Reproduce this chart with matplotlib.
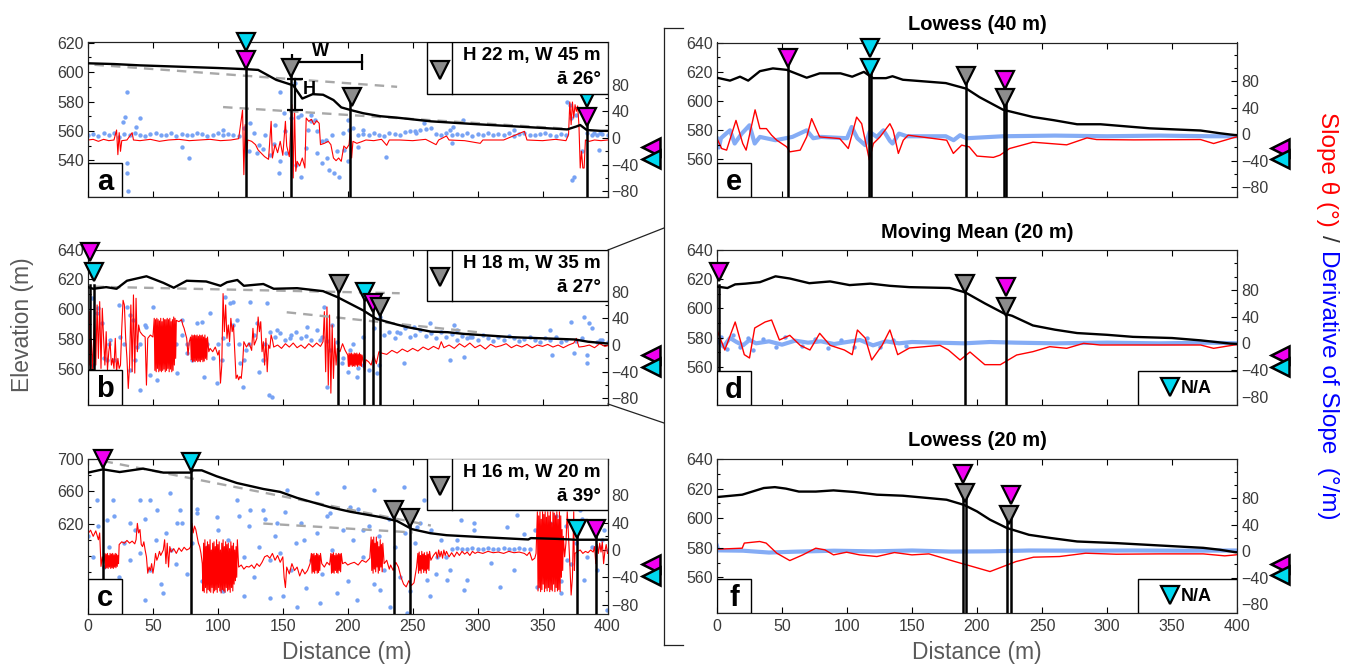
import numpy as np
import matplotlib
matplotlib.use('Agg')
import matplotlib.pyplot as plt
from matplotlib.patches import Rectangle
from matplotlib.lines import Line2D
from matplotlib.ticker import FixedLocator, MultipleLocator

plt.rcParams['font.family'] = ['Liberation Sans', 'DejaVu Sans']

W, H = 1347, 668

# colours
MAGENTA = '#f000f0'
CYAN = '#00d8f0'
GREY = '#8c8c8c'
RED = '#ff0000'
LBLUE = '#78a3f4'
TICKC = '#3a3a3a'
LABELC = '#5a5a5a'

# ---------------- panel a ----------------
a_prof = [(0, 606), (20, 605.5), (40, 604.6), (60, 604), (80, 603.4), (100, 602.8), (122, 602),
          (131, 601.5), (145, 594.7), (158, 591), (165, 582), (173, 585), (181, 584.6), (189, 581),
          (195, 576), (203, 574), (212, 572), (225, 570), (238, 569), (264, 566.5), (300, 564.5),
          (340, 562.5), (369, 561), (376, 563), (379, 564), (384, 560.6), (395, 560), (400, 560)]
a_dash = [((5, 238), (605, 590)), ((104, 370), (576.2, 561.4))]
a_vlines = [(122, 608), (156, 602.6), (202, 583.4), (384, 569.4)]
a_marks = [(122, 608.3, MAGENTA), (122, 620.7, CYAN), (156, 602.6, GREY), (203, 583.4, GREY),
           (384, 582.3, CYAN), (384.5, 569.4, MAGENTA)]
a_red = [(0, -3), (4, -2), (8, -5), (12, -2), (16, -4), (20, -3), (22, 12), (23, -25), (24, 8), (25, -20),
         (26, -4), (30, -3), (34, 8), (35, -3), (40, -4), (48, -2), (55, -5), (62, -3), (70, -2), (78, -4),
         (86, -3), (94, -2), (102, -4), (110, -3), (116, -1), (119, 42), (120, -55), (121, 20), (122, -30),
         (123, -3), (126, -5), (129, -10), (131, -18), (133, -22), (136, -28), (139, -32), (141, 25),
         (142, -30), (144, -10), (146, -22), (148, -5), (150, -26), (152, 25), (153, -12), (155, -28),
         (157, 50), (158, -60), (159, 45), (160, -50), (161, -35), (163, -42), (165, -30), (167, -45),
         (168, 30), (170, 25), (172, 28), (174, 20), (176, 26), (178, 22), (179, -10), (182, -8), (185, -5),
         (187, -10), (189, -30), (191, -34), (193, -30), (195, -35), (197, -12), (199, -16), (201, -10),
         (202, 12), (203, -30), (204, -5), (207, -8), (210, -6), (214, -3), (220, -4), (226, -2), (230, -11),
         (232, -3), (240, -3), (250, -4), (260, -2), (268, -10), (270, -3), (276, 3), (278, -3), (290, -4),
         (302, -8), (304, -3), (320, -3), (336, 10), (338, -3), (350, -4), (360, -2), (368, -4), (370, 5),
         (371, 54), (372, 20), (373, 54), (374, 30), (375, 50), (376, 40), (377, 48), (378, 20), (379, -45),
         (380, -20), (381, -45), (382, -45), (383, -3), (386, -5), (390, -3), (395, -4), (400, -3)]
a_band_d = np.arange(0, 401, 4)
a_band_v = [4, 6, 3, 7, 5, 8, 2, 6, 4, 7, 5, 3, 6, 8, 4, 5, 7, 3, 6, 5, 4, 8, 6, 3, 5, 7, 4, 6, 5, 3,
            15, -20, 8, -10, 5, -25, 20, -35, 10, 30, -40, 35, -15, 25, 10, -5, -30, 5, -20, 8, -35, 15, 5,
            6, 4, 7, 5, 3, 8, 6, 4, 9, 10, 11, 12, 13, 15, 6, 5, 7, 4, 6, 5, 7, 3, 6, 5, 8, 4, 6, 5, 7, 3,
            6, 8, 5, 4, 6, 7, 5, 3, 6, 5, 30, 35, -20, 8, 5, 4, 6, 5]
a_blue_out = [(29.8, 69), (28.5, 32), (27, 24.5), (29.8, -53), (31, -80), (30, -38), (40, 29.5), (37, 17),
              (78, -30), (72.6, -13), (104, 12), (125, 22), (130, -23), (135, -16), (143, -8.5), (148, 69),
              (147, -53), (151, 37), (152.6, -23), (159, 82), (161.6, 32), (164, -58), (169.6, 12),
              (172, 34.5), (175, 27), (176.5, -23), (180, -38), (183, -3), (185.7, -48), (189.6, -53),
              (193.4, -58), (197, -18), (201, 12), (200, 27), (207.7, -13), (211.6, 12), (229.6, -28),
              (252.7, 7), (281, 17), (289, 27), (258.5, 22), (279, 12.5), (280.3, -7.5), (369, 54),
              (371.5, 49), (373, -63), (374.3, -58), (393.3, -18), (394.6, 7), (328, 12.5), (389.4, 7.5)]

# ---------------- panel b ----------------
b_prof = [(0, 614.7), (4, 613.6), (14, 614.7), (22, 613.6), (30, 619), (45, 622), (58, 617.6), (66, 614.3),
          (76, 619), (91, 618.5), (102, 615.6), (107, 618), (115, 619.5), (120, 615.6), (135, 616.8),
          (143, 613.6), (161, 614), (181, 612), (192, 608), (202, 603.5), (212, 599), (222, 593.4),
          (238, 589.5), (246, 587.8), (264, 584.8), (277, 584.4), (289, 583.3), (328, 581), (375, 579.5),
          (385, 578), (400, 576.8)]
b_dash = [((5, 240), (615, 610.6)), ((153, 300), (597.8, 584.4))]
b_vlines = [(1.3, 616), (4.4, 616), (192.3, 616.9), (212.6, 611.3), (219.2, 604), (224.5, 601.2)]
b_marks = [(1.5, 638.2, MAGENTA), (4.6, 624.7, CYAN), (193, 616.9, GREY), (213, 611.3, CYAN),
           (219.4, 604, MAGENTA), (224.5, 601.2, GREY)]
b_red = [(0, 30), (0.5, -35), (1, 50), (1.5, -30), (2.5, 10), (3.5, -37), (5, 45), (6, -30), (7, 60), (8, -20),
         (9, 65), (10, -35), (11, 55), (12, 10), (13, -30), (14, 20), (15, -37), (16, -10), (17, 5), (18, -30),
         (19, -20), (20, -35), (21, 10), (22, -40), (23, -20), (24, -35), (25, -30), (26, 25), (27, 67),
         (28, 60), (29, 10), (30, -20), (31, -65), (32, -30), (33, 60), (34, -40), (35, 75), (36, -42),
         (37, 70), (38, -10), (39, 30), (40, 20), (42, 15), (44, 12), (45, -60), (46, 10), (48, 15), (50, 12),
         (51, 40), (51.5, -38), (52, 38), (52.5, -40), (53, 40), (53.5, -35), (54, 38), (54.5, -40), (55, 36),
         (55.5, -38), (56, 40), (56.5, -40), (57, 35), (57.5, -38), (58, 40), (58.5, -36), (59, 38),
         (59.5, -40), (60, 38), (60.5, -38), (61, 40), (61.5, -35), (62, 38), (62.5, -40), (63, 40),
         (63.5, -36), (64, 35), (64.5, -40), (65, 38), (65.5, -38), (66, 42), (66.5, -30), (67, 40),
         (67.5, -20), (68, 37), (70, 35), (72, 38), (73, 30), (74, 25), (76, 10), (77, -15), (78, 5), (79, 12),
         (79.5, -22), (80, 15), (80.5, -25), (81, 14), (81.5, -24), (82, 15), (82.5, -25), (83, 14),
         (83.5, -23), (84, 15), (84.5, -25), (85, 13), (85.5, -24), (86, 15), (86.5, -25), (87, 14),
         (87.5, -22), (88, 15), (88.5, -25), (89, 12), (89.5, -24), (90, 15), (90.5, -20), (91, 10),
         (91.5, -22), (92, 12), (93, -10), (94, -5), (96, -10), (98, -3), (100, -15), (101, -8), (102, -57),
         (103, -30), (104, 77), (105, 20), (106, 60), (107, 10), (108, 30), (109, 5), (110, 40), (111, 20),
         (112, 30), (113, -10), (114, -50), (115, -45), (116, -52), (117, -47), (118, -50), (119, -30),
         (120, 5), (122, -3), (124, 3), (126, -8), (127, 25), (128, 0), (130, 10), (131, 42), (132, 20),
         (133, 35), (134, -10), (135, 5), (136, -30), (137, 10), (138, -40), (139, 0), (140, -5), (141, 15),
         (142, 8), (143, -3), (146, 0), (149, -5), (152, 2), (155, -3), (158, 3), (161, -4), (164, 0),
         (167, -5), (170, 2), (173, -3), (176, 3), (179, -2), (181, 5), (182, 50), (183, -40), (184, 57),
         (185, -60), (186, 45), (187, -72), (188, 30), (189, -50), (190, 10), (191, -30), (192, -5),
         (194, -10), (196, 2), (198, -8), (200, -15), (200.5, -32), (201, -12), (201.5, -32), (202, -13),
         (202.5, -30), (203, -12), (203.5, -32), (204, -14), (204.5, -31), (205, -12), (205.5, -32),
         (206, -13), (206.5, -30), (207, -12), (207.5, -32), (208, -14), (208.5, -30), (209, -12),
         (209.5, -31), (210, -14), (210.5, -32), (211, -15), (212, -25), (213, -40), (214, -22), (216, -25),
         (218, -30), (220, -15), (222, -28), (224, -10), (226, -12), (230, -14), (234, -8), (238, -12),
         (242, -6), (246, -10), (250, -5), (254, -9), (258, -3), (262, -7), (266, -2), (270, -6), (272, 5),
         (274, -4), (278, 0), (282, -5), (286, 2), (290, -3), (294, 3), (298, -4), (302, 0), (306, -6),
         (310, 1), (314, -3), (318, -1), (322, 2), (326, -4), (330, 0), (334, -3), (338, 1), (342, -4),
         (346, 0), (350, -2), (354, 1), (358, -3), (362, 0), (366, -4), (370, 0), (374, 3), (376, 10),
         (378, -3), (382, -2), (386, 0), (390, -4), (394, 2), (398, -2), (400, -1)]
b_band_d = np.arange(0, 401, 4)
b_band_v = [40, -30, 55, -20, 2, -22, 60, 2, 45, -22, 2, 30, -45, 2, 25, 2, -22, 2, 15, 2, -22, 2, 35, 2,
            -20, 2, 10, 2, 30, 2, -22, 2, 15, -40, 2, 20,
            12, 18, 8, 15, 20, 10, 14, 8, 22, 12, 6, 30, 5, -20, -40, 2, -35, -30, -38, 25,
            -30, 15, 20, 10, 18, 25, 12, 15, 22, 14, 18, 10, 20, 12, 16, 8, 14, 10, 12, 8, 15, 10, 6, 12,
            8, 14, 10, 6, 9, 12, 8, 5, 10, 7, 12, 5, 8, 35, 6, 10, -15, 25, 5, 8, 4]
b_blue_out = [(2.8, 70), (6.7, 47.5), (10.5, 32.5), (11.8, -52.5), (14.4, -22.5), (17, 7.5), (19.5, -67.5),
              (24.7, 12.5), (30, 57.5), (32.4, -37.5), (35, 37.5), (37.5, -2.5), (40, -67.5), (45, 27.5),
              (50.3, 57.5), (53, -52.5), (63.2, 17.5), (68.3, -42.5), (72.2, 37.5), (76, -12.5), (84, 32.5),
              (89, -47.5), (94, 47.5), (99, -57.5), (103, -22.5), (105.6, 72.5), (109.4, 62.5), (112, 65),
              (114.6, 37.5), (117, -27.5), (119.7, -62.5), (122, -7.5), (125, 65), (130, 32.5),
              (135, -22.5), (137.7, 62.5), (139, -75), (141.5, -77.5), (145.4, 22.5), (155.7, 10),
              (168.5, 27.5), (179, 7.5), (181.4, 57.5), (184, -62.5), (186.5, -7.5), (195.5, -27.5),
              (202, -7.5), (207, -47.5), (212, 12.5), (222.5, -42.5), (225, 42.5), (238, 20), (251, 27.5),
              (263.6, 32.5), (284, 22.5), (289.3, -17.5), (294.4, 12.5), (243, -27.5), (279, -22.5),
              (281.5, 30), (356, 22.5), (357.4, -15), (374, -12.5), (381.7, 42.5), (384.3, -27.5),
              (385.6, 32.5), (394.6, 7.5)]

# ---------------- panel c ----------------
c_prof = [(0, 682.8), (11.5, 686.8), (24.4, 683.5), (42.4, 687.7), (58, 682.8), (78.6, 682.8), (81, 685.6),
          (87.6, 685.6), (99, 678.3), (114.6, 670), (135, 662.6), (148, 659), (161, 651.6), (186.6, 640),
          (202, 634.5), (225, 628), (238, 623), (249.5, 613), (263.7, 608), (276, 605.6), (300, 603.5),
          (339, 600.3), (341, 602), (362, 601), (375, 600), (393, 600), (400, 600)]
c_dash = [((12, 264), (697, 617.5)), ((135, 250), (620, 609))]
c_vlines = [(11.8, 700), (79, 695.8), (235.3, 636.4), (248, 626.2), (376.6, 613.8), (390.8, 613.8)]
c_marks = [(11.8, 700, MAGENTA), (79, 695.8, CYAN), (235.3, 636.4, GREY), (248, 626.2, GREY),
           (376.6, 613.8, CYAN), (390.8, 613.8, MAGENTA)]
c_red = [(0, 24), (2, 29), (4, 20), (6, 28), (8, 15), (9, 25), (10, -24), (11, -10), (12, -20),
         (13, -5), (13.5, -27), (14, -6), (14.5, -26), (15, -5), (15.5, -27), (16, -8), (16.5, -25), (17, -5),
         (17.5, -27), (18, -6), (18.5, -26), (19, -5), (19.5, -27), (20, -7), (20.5, -25), (21, -5),
         (21.5, -26), (22, -6), (22.5, -24), (23, -8), (23.5, -20), (24, 8), (26, 12), (28, 10), (30, 14),
         (32, 10), (34, 13), (36, 9), (37, 15), (38, 39), (39, 25), (40, 30), (41, 8), (42, 5), (43, 12),
         (44, 0), (45, -10), (46, -34), (47, -25), (48, -30), (49, -20), (50, -34), (51, -22), (52, -5),
         (53, -15), (54, -10), (55, -2), (56, -8), (58, 0), (59, 15), (60, -20), (61, 10), (62, -25), (63, 5),
         (64, -3), (66, 2), (68, -5), (70, 3), (72, -2), (74, 4), (76, 0), (78, 2), (79, 5), (80, 39),
         (81, 25), (82, 35), (83, 30), (84, 20), (85, 10), (86, 5), (87, -5), (88, -20), (88.5, -60), (89, 10),
         (89.5, -62), (90, 15), (90.5, -55), (91, 5), (91.5, -63), (92, 12), (92.5, -58), (93, 8), (93.5, -60),
         (94, 15), (94.5, -62), (95, 0), (95.5, -55), (96, 10), (96.5, -63), (97, 12), (97.5, -60), (98, 5),
         (98.5, -58), (99, 15), (99.5, -62), (100, 8), (100.5, -55), (101, 12), (101.5, -60), (102, 0),
         (102.5, -63), (103, 10), (103.5, -58), (104, 15), (104.5, -60), (105, 5), (105.5, -62), (106, 12),
         (106.5, -55), (107, 8), (107.5, -60), (108, 10), (108.5, -58), (109, 2), (109.5, -62), (110, 12),
         (110.5, -55), (111, 6), (111.5, -60), (112, 10), (112.5, -50), (113, 0), (113.5, -45), (114, 5),
         (114.5, -40), (115, 15), (116, -25), (118, -22), (120, -28), (122, -24), (124, -25), (126, -22),
         (128, -27), (130, -20), (132, -24), (134, -18), (136, -10), (138, -8), (140, -12), (142, -5),
         (144, -15), (146, -8), (148, -18), (150, -10), (151, -40), (152, -55), (153, -25), (155, -35),
         (157, -20), (159, -30), (161, -25), (163, -38), (165, -28), (167, -35), (169, -30), (171, -20),
         (172, -5), (172.5, -34), (173, -6), (173.5, -32), (174, -5), (174.5, -34), (175, -8), (175.5, -30),
         (176, -5), (176.5, -34), (177, -6), (177.5, -33), (178, -8), (178.5, -30), (179, -5), (180, -20),
         (182, -25), (184, -18), (186, -22), (187, -5), (187.5, -34), (188, -6), (188.5, -33), (189, -4),
         (189.5, -34), (190, -8), (190.5, -30), (191, -5), (191.5, -33), (192, -7), (192.5, -34), (193, -5),
         (193.5, -30), (194, -6), (194.5, -32), (195, -5), (196, -20), (198, -18), (200, -22), (202, -20),
         (205, -18), (208, -22), (211, -15), (214, -18), (217, -12), (218, 19), (218.5, -30), (219, 15),
         (219.5, -34), (220, 19), (220.5, -28), (221, 10), (221.5, -32), (222, 19), (222.5, -25), (223, 12),
         (223.5, -34), (224, 5), (224.5, -30), (225, 15), (225.5, -25), (226, 8), (226.5, -32), (227, 10),
         (228, -20), (230, -15), (232, -28), (233, -22), (235, -30), (237, -18), (239, -25), (241, -40),
         (243, -50), (245, -54), (247, -45), (249, -52), (251, -48), (253, -25), (254, -5), (254.5, -34),
         (255, -3), (255.5, -30), (256, -8), (256.5, -34), (257, -2), (257.5, -28), (258, -6), (258.5, -33),
         (259, -4), (259.5, -30), (260, -8), (260.5, -34), (261, -3), (261.5, -28), (262, -6), (262.5, -30),
         (263, -2), (264, -15), (266, -8), (268, -3), (269, -12), (270, 0), (271, -10), (272, -2), (273, -12),
         (274, 0), (275, -8), (276, -2), (278, -10), (280, -4), (282, -10), (284, -3), (286, -8), (288, -2),
         (290, -6), (292, -3), (294, -8), (296, -2), (298, -5), (300, -3), (304, -5), (308, -2), (312, -4),
         (316, -3), (320, -5), (324, -2), (328, -4), (332, -3), (336, -5), (338, -8), (340, -3), (342, -15),
         (344, -12), (345, -5), (346, 56), (346.5, -60), (347, 50), (347.5, -55), (348, 56), (348.5, -61),
         (349, 45), (349.5, -58), (350, 56), (350.5, -50), (351, 52), (351.5, -61), (352, 56), (352.5, -56),
         (353, 48), (353.5, -60), (354, 56), (354.5, -55), (355, 50), (355.5, -61), (356, 56), (356.5, -58),
         (357, 40), (357.5, -60), (358, 56), (358.5, -50), (359, 54), (359.5, -61), (360, 50), (360.5, -55),
         (361, 56), (361.5, -60), (362, 45), (362.5, -58), (363, 56), (363.5, -61), (364, 50), (364.5, -40),
         (365, 30), (365.5, -30), (366, 20), (367, -10), (368, 10), (369, 56), (370, 20), (371, -20),
         (372, -66), (373, -40), (374, 56), (374.5, -30), (375, -5), (377, -2), (379, 0), (381, -5), (383, -2),
         (385, -4), (387, 0), (389, -3), (390, 5), (391, -20), (392, 8), (393, -5), (394, 10), (395, -3),
         (396, 12), (397, -20), (398, -2), (399, 8), (400, -5)]
c_band_d = np.arange(0, 401, 4)
c_band_v = [20, -10, 35, -25, 5, 50, -40, 10, -15, 30, -5, 45, -30, 15, -50, 25, 0, -20, 40, -35, 10, 60,
            -45, 5, -15,
            30, -60, 15, -25, 50, -10, 35, -40, 5, 45, -70, 20, -5, 55, -30, 10, 40, -55, -15, 25, -35, 50,
            0, -25, 30, -45, 15, 60, -10, 35, -50, 20, -30, 45, 5, -40, 25, -60, 10, 40, -20, 30, -35, 15, -10,
            2, 3, 2, 1, 3, 2, 2, 3, 1, 2, 3, 2, 2, 3, 2, 1, 30, 20, -30, 40, 50, -45, 35, -20, 10, 45, -10, 5,
            -30, 15, 0]
c_blue_out = [(6.7, 73), (14.4, 44), (19.5, 73), (22, -54), (32.4, 39), (40, 73), (44, -73), (47.8, 73),
              (53, 58.5), (58, -63.5), (63, 83), (68.3, 39), (71, 58.5), (84, 53.6), (89, -24.4), (99, 48.8),
              (103, -58.6), (114.6, 73), (120, -68), (125, 58.5), (135, 58.5), (140, -14.7), (145.4, 39),
              (150.5, -68), (153, 87.8), (161, -83), (166, 14.6), (176.3, 83), (179, -78), (186.6, 53.6),
              (191.8, -63.5), (197, 92.7), (202, 63), (207, -73), (212, 29), (220, 87.8), (225, -58.6),
              (232.7, -83), (243, 92.7), (245.7, -92), (253.3, 34), (263.6, -68), (271.3, 63), (276.4, -44),
              (284, 14.6), (289.3, -58.6), (297, 39), (258.5, 73), (261, -44), (268.7, -10), (279, -29),
              (287, 44), (292, -44), (297, 29), (310, -19.5), (317.5, -54), (322.7, 34), (328, -29),
              (330.4, 51), (335.5, 24), (343, 63), (346, -54), (353.5, 0), (358.6, 73), (364, -63.5),
              (369, -14.7), (379, 58.5), (381.7, -44), (386.8, 39), (394.6, 5), (397, 29), (399.7, -88)]

# ---------------- panel e : Lowess (40 m) ----------------
e_prof = [(0, 616), (10, 614), (17.7, 616.7), (24, 614), (33, 620.5), (43, 622.4), (53.6, 621.4), (69, 616),
          (79, 619), (95, 619), (104, 616.7), (113, 620), (120, 615.7), (130, 615.7), (135, 617),
          (143, 614.6), (176, 612.3), (192, 608.4), (202, 602.6), (220, 594), (243, 589), (259, 586.8),
          (277, 584), (295, 584), (333, 581.2), (372, 579.7), (387, 577.8), (398, 576.6), (400, 576.5)]
e_vlines = [(54.4, 629.3), (117.2, 623), (118.7, 623), (191.3, 617.3), (221, 601.8), (222, 601.8)]
e_marks = [(54.4, 629.3, MAGENTA), (117.5, 636.1, CYAN), (118, 623, CYAN), (191.3, 617.3, GREY),
           (221.5, 614.3, MAGENTA), (221.5, 601.8, GREY)]
e_red = [(0, -6.5), (3.6, -21.6), (7.4, -24), (14.6, 21), (19.8, -14), (22.4, -24), (29.3, 37), (33, 8.6),
         (38, 8.6), (42, -1.4), (46, -9), (53.6, -19), (56, -26.6), (64, -24), (69, -4), (72.8, 23.7),
         (76.7, 6), (79, -4), (94.4, -6.5), (101, -21.6), (107.4, 26), (111.3, 16), (114, -9), (117.2, -39),
         (120.3, -14), (125.4, -4), (133, 16), (135.5, 6), (139.5, -29), (143.3, -9), (147, -1.4),
         (176.7, -9), (181.8, -29), (188.2, -16.5), (194, -19), (200, -33), (212.6, -35), (217.7, -31.6),
         (225, -21.6), (228, -20), (243, -12), (256, -14), (269, -16), (284.6, -5.5), (292, -8),
         (320.5, -8.5), (372, -8), (382, -14), (397.7, -5), (400, -4)]
e_blue = [(0, -6.5), (1.5, -20), (3, -6), (7, 1), (10, 6), (13.6, -14), (19, 1), (25, 13.6), (29, -14),
          (33, -4), (45, -9), (58, -4), (69, 6), (74, -6), (80, -4), (100, -6), (103.6, 11), (108, -6),
          (114, -16.5), (117.4, 3.6), (123, -4), (128, 6), (133, -10), (135, -14), (140, 1), (146, -3),
          (176, -3), (182, -9), (187, -1.4), (192, -6), (220, -3), (260, -2), (300, -3), (340, -2),
          (380, -3), (400, -3)]

# ---------------- panel d : Moving Mean (20 m) ----------------
d_prof = [(0, 615), (8, 614), (14, 616.5), (22, 617), (33, 618), (45, 622), (56, 620.5), (71, 617.3),
          (87, 618.5), (102, 616), (118, 617), (133, 615.5), (148, 614.6), (179, 614), (191, 611),
          (206, 603.5), (221, 596.5), (227, 595), (243, 588.4), (260, 585.5), (277, 583.2), (300, 582),
          (320, 580.6), (350, 579.8), (372, 578.2), (395, 576), (400, 575.8)]
d_vlines = [(1.5, 616), (191, 616.5), (222, 601)]
d_marks = [(1.5, 625, MAGENTA), (191, 616.5, GREY), (222, 614.8, MAGENTA), (222, 601, GREY)]
d_red = [(0, 20), (6, -10), (14, 32), (21, -17), (25, -22), (29, 23), (37, 32), (42, 35), (48, 5), (56, 12),
         (64, -3), (71.5, -10), (79, 15), (87, -3), (98, -10), (104, -17), (108, 20), (114, 8), (119, -25),
         (127, -3), (133, 20), (139, -17), (148, -7), (171.5, -3), (178, -10), (187, -25), (194.6, -13),
         (206, -32), (218, -32), (224, -25), (230.5, -17.5), (243, -12.5), (256, -5), (269, -7.5), (282, 0),
         (294.6, -2.5), (333, -2.5), (372, -2.5), (382, -7.5), (397.7, -2.5), (400, -2)]
d_blue = [(0, 5), (5, -5), (10, 8), (15, 2), (20, -3), (25, 5), (30, 0), (40, 3), (50, -2), (60, 4), (70, 1),
          (80, 3), (90, -1), (100, 2), (110, 5), (120, -3), (130, 3), (140, 0), (150, 2), (170, 1), (190, 0),
          (210, 2), (230, 1), (260, 0), (300, 1), (340, 0), (380, 1), (400, 0)]
d_blue_dots = [(3, 10), (8, -8), (12, 12), (18, -5), (24, 8), (28, -10), (35, 6), (45, -6), (52, 9),
               (65, -4), (75, 7), (85, -7), (95, 5), (105, -5), (115, 8), (125, -6), (135, 5), (145, -4)]

# ---------------- panel f : Lowess (20 m) ----------------
f_prof = [(0, 614.3), (19.4, 615.9), (36, 620.4), (44.5, 621), (53, 620), (63, 618), (76, 618),
          (89.6, 618.8), (106, 617.7), (123, 615.9), (143, 615.2), (163, 613.6), (176.6, 612.5), (190, 609),
          (200, 604.6), (210, 599), (223, 593.4), (240, 588.8), (257, 586.6), (277, 584.3), (307, 583.2),
          (340.5, 581.6), (374, 580), (387, 578.7), (399, 577), (400, 577)]
f_vlines = [(189, 617), (191.6, 617), (223.4, 602.4), (226, 602.4)]
f_marks = [(189.5, 630, MAGENTA), (190.5, 617, GREY), (226.5, 615.9, MAGENTA), (224.5, 602.4, GREY)]
f_red = [(0, 2.8), (19.4, 4.3), (21, 12), (32.8, 14.4), (37.8, 12), (46, -3.3), (56, -14.4), (66, -5.8),
         (76, 4.3), (83, 1.8), (89.6, -5.8), (99.7, -1.8), (109.7, -5.8), (123, -8.3), (136.5, -2.3),
         (150, -5.8), (163, -4.3), (183, -15.9), (196.7, -23.5), (210, -31), (220, -23.5), (230, -15.9),
         (243.5, -9.3), (263.5, -8.3), (283.6, -3.3), (307, -4.8), (340.5, -4.3), (374, -4.3),
         (390.6, -7.3), (399, -5.8), (400, -5.5)]
f_blue = [(0, 7.8), (1, 1), (20, 0.5), (40, -2.3), (60, -1), (90, 0.5), (120, -0.5), (150, 0.8),
          (180, -0.8), (210, -0.5), (240, 0.8), (280, 0.5), (320, 0.8), (360, 0.5), (400, 0.8)]

# axes boxes in pixels (left, top, right, bottom)
fig = plt.figure(figsize=(W / 100, H / 100), dpi=100)


def make_axes(rect, elev_lim, elev_major, elev_minor, slope_lim, xlabels=False):
    l, t, r, b = rect
    ax = fig.add_axes([l / W, 1 - b / H, (r - l) / W, (b - t) / H])
    axr = ax.twinx()
    ax.set_zorder(axr.get_zorder() + 1)
    ax.patch.set_visible(False)
    ax.set_xlim(0, 400)
    ax.set_ylim(elev_lim)
    axr.set_ylim(slope_lim)
    ax.xaxis.set_major_locator(MultipleLocator(50))
    ax.yaxis.set_major_locator(FixedLocator(elev_major))
    ax.yaxis.set_minor_locator(FixedLocator(elev_minor))
    axr.yaxis.set_major_locator(FixedLocator([-80, -40, 0, 40, 80]))
    axr.yaxis.set_minor_locator(FixedLocator([-60, -20, 20, 60, 100, 120]))
    ax.tick_params(axis='x', direction='in', top=True, length=4, width=0.8, labelbottom=xlabels,
                   labelsize=11.5, labelcolor=TICKC, pad=4)
    for a in (ax, axr):
        a.tick_params(axis='y', which='both', direction='in', width=0.8, labelsize=11.5,
                      labelcolor=TICKC, pad=3)
        a.tick_params(axis='y', which='major', length=4)
        a.tick_params(axis='y', which='minor', length=2.5)
        for sp in a.spines.values():
            sp.set_linewidth(0.8)
            sp.set_color('#222222')
    return ax, axr


def draw_panel(ax, axr, prof, dashes, vlines, marks, red, red_lw=0.8, blue_pts=None, blue_line=None):
    if blue_pts is not None:
        axr.scatter(blue_pts[0], blue_pts[1], s=10, color=LBLUE, lw=0, zorder=2)
    if blue_line is not None:
        bl = np.array(blue_line).T
        axr.plot(bl[0], bl[1], color=LBLUE, lw=3, alpha=0.9, zorder=2)
    rd = np.array(red).T
    axr.plot(rd[0], rd[1], color=RED, lw=red_lw, zorder=3)
    lo = ax.get_ylim()[0]
    for xs, ys in dashes:
        ax.plot(xs, ys, color='#a8a8a8', lw=1.7, dashes=(4, 3), zorder=3)
    p = np.array(prof).T
    ax.plot(p[0], p[1], color='k', lw=1.7, zorder=4)
    for x, top in vlines:
        ax.plot([x, x], [lo, top], color='k', lw=1.8, zorder=5)
    for x, y, c in marks:
        ax.plot(x, y, marker='v', ms=13, mfc=c, mec='k', mew=1.6, ls='none', clip_on=False, zorder=8)


def label_box(ax, letter):
    ax.add_patch(Rectangle((0, 0), 0.066, 0.22, transform=ax.transAxes, fc='white', ec='k', lw=1, zorder=20))
    ax.text(0.033, 0.1, letter, transform=ax.transAxes, ha='center', va='center', fontsize=21,
            fontweight='bold', zorder=21)


def info_box(ax, line1, line2):
    ax.add_patch(Rectangle((0.6526, 0.665), 0.3474, 0.335, transform=ax.transAxes, fc='white', ec='k',
                           lw=1, zorder=20))
    ax.plot([0.7007, 0.7007], [0.665, 1.0], transform=ax.transAxes, color='k', lw=1, zorder=21)
    ax.plot([0.677], [0.82], marker='v', ms=13, mfc=GREY, mec='k', mew=1.6, transform=ax.transAxes,
            zorder=22, clip_on=False)
    ax.text(0.987, 0.91, line1, transform=ax.transAxes, ha='right', va='center', fontsize=13.5,
            fontweight='bold', zorder=22)
    ax.text(0.987, 0.755, line2, transform=ax.transAxes, ha='right', va='center', fontsize=13.5,
            fontweight='bold', zorder=22)


def na_box(ax):
    ax.add_patch(Rectangle((0.81, 0), 0.19, 0.22, transform=ax.transAxes, fc='white', ec='k', lw=1, zorder=20))
    ax.plot([0.871], [0.115], marker='v', ms=13, mfc=CYAN, mec='k', mew=1.6, transform=ax.transAxes,
            zorder=22, clip_on=False)
    ax.text(0.892, 0.105, 'N/A', transform=ax.transAxes, ha='left', va='center', fontsize=13,
            fontweight='bold', zorder=22)


def side_marks(ax):
    ax.plot([1.083], [0.32], marker='<', ms=13, mfc=MAGENTA, mec='k', mew=1.8, transform=ax.transAxes,
            clip_on=False, zorder=30)
    ax.plot([1.083], [0.245], marker='<', ms=13, mfc=CYAN, mec='k', mew=1.8, transform=ax.transAxes,
            clip_on=False, zorder=30)


ticks10 = [560, 580, 600, 620, 640]

# panel a
ax, axr = make_axes((88, 42, 607.5, 197), (515, 620.5), [540, 560, 580, 600, 620], range(520, 621, 10),
                    (-88.5, 144))
a_blue = (np.concatenate([a_band_d, np.array(a_blue_out)[:, 0]]),
          np.concatenate([a_band_v, np.array(a_blue_out)[:, 1]]))
draw_panel(ax, axr, a_prof, a_dash, a_vlines, a_marks, a_red, blue_pts=a_blue)
# W and H markers of the scarp geometry
ax.plot([157, 211], [607, 607], color='k', lw=1.6, marker='|', ms=11, mew=1.6, zorder=6)
ax.plot([159.5, 159.5], [574, 595.2], color='k', lw=1.6, marker='_', ms=12, mew=1.6, zorder=6)
ax.text(179, 614, 'W', fontsize=13, fontweight='bold', ha='center', va='center', zorder=7)
ax.text(170.6, 588, 'H', fontsize=13, fontweight='bold', ha='center', va='center', zorder=7)
label_box(ax, 'a')
info_box(ax, 'H 22 m, W 45 m', '\u0101 26\u00b0')
side_marks(ax)

# panel b
ax, axr = make_axes((88, 249.5, 607.5, 404.5), (535.8, 640), ticks10, range(540, 641, 10), (-89, 143))
b_blue = (np.concatenate([b_band_d, np.array(b_blue_out)[:, 0]]),
          np.concatenate([b_band_v, np.array(b_blue_out)[:, 1]]))
draw_panel(ax, axr, b_prof, b_dash, b_vlines, b_marks, b_red, blue_pts=b_blue)
label_box(ax, 'b')
info_box(ax, 'H 18 m, W 35 m', '\u0101 27\u00b0')
side_marks(ax)

# panel c
ax, axr = make_axes((88, 458.5, 607.5, 613.5), (509, 700.2), [620, 660, 700], range(520, 701, 20),
                    (-93, 134), xlabels=True)
c_blue = (np.concatenate([c_band_d, np.array(c_blue_out)[:, 0]]),
          np.concatenate([c_band_v, np.array(c_blue_out)[:, 1]]))
draw_panel(ax, axr, c_prof, c_dash, c_vlines, c_marks, c_red, blue_pts=c_blue)
label_box(ax, 'c')
info_box(ax, 'H 16 m, W 20 m', '\u0101 39\u00b0')
side_marks(ax)

# panel e
ax, axr = make_axes((717, 42.5, 1237, 197), (534, 640.2), ticks10, range(540, 641, 10), (-95, 139))
draw_panel(ax, axr, e_prof, [], e_vlines, e_marks, e_red, red_lw=1.0, blue_line=e_blue)
ax.set_title('Lowess (40 m)', fontsize=14.5, fontweight='bold', pad=9)
label_box(ax, 'e')
side_marks(ax)

# panel d
ax, axr = make_axes((717, 250, 1237, 405), (534, 640), ticks10, range(540, 641, 10), (-92.5, 140))
dd = np.array(d_blue_dots).T
draw_panel(ax, axr, d_prof, [], d_vlines, d_marks, d_red, red_lw=1.0, blue_pts=(dd[0], dd[1]),
           blue_line=d_blue)
ax.set_title('Moving Mean (20 m)', fontsize=14.5, fontweight='bold', pad=9)
label_box(ax, 'd')
na_box(ax)
side_marks(ax)

# panel f
ax, axr = make_axes((717, 459, 1237, 613), (536, 640), ticks10, range(540, 641, 10), (-93.6, 139),
                    xlabels=True)
draw_panel(ax, axr, f_prof, [], f_vlines, f_marks, f_red, red_lw=1.0, blue_line=f_blue)
ax.set_title('Lowess (20 m)', fontsize=14.5, fontweight='bold', pad=9)
label_box(ax, 'f')
na_box(ax)
side_marks(ax)

# axis labels
fig.text(347 / W, 1 - 652 / H, 'Distance (m)', fontsize=16.5, color=LABELC, ha='center', va='center')
fig.text(977 / W, 1 - 652 / H, 'Distance (m)', fontsize=16.5, color=LABELC, ha='center', va='center')
fig.text(22 / W, 1 - 325 / H, 'Elevation (m)', fontsize=16.5, color=LABELC, ha='center', va='center',
         rotation=90)

# bracket linking panel b to the right column
bracket = [((664, 683), (28, 28)), ((664, 664), (28, 645)), ((664, 683), (645, 645)),
           ((608, 664), (250, 228)), ((608, 664), (404, 423))]
for xs, ys in bracket:
    fig.add_artist(Line2D([xs[0] / W, xs[1] / W], [1 - ys[0] / H, 1 - ys[1] / H], color='#222222', lw=0.9))

# right label in several colours, stacked top to bottom
fig.canvas.draw()
rend = fig.canvas.get_renderer()
y = 1 - 112 / H
for s, col in [('Slope \u03b8 (\u00b0)', RED), ('/', '#333333'), ('Derivative of Slope  (\u00b0/m)', '#0000ff')]:
    t = fig.text(1328 / W, y, s, color=col, fontsize=17.5, rotation=270, ha='center', va='top')
    bb = t.get_window_extent(rend)
    y -= (bb.height + 8) / H

fig.savefig('out.png', dpi=100)
